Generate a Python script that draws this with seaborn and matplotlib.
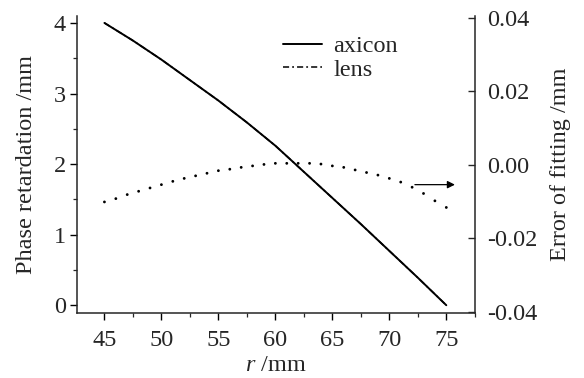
import matplotlib
matplotlib.use('Agg')
import pandas as pd
import matplotlib.pyplot as plt
import seaborn as sns
from matplotlib.ticker import MultipleLocator, FormatStrFormatter

# phase retardation curves (left axis)
r_line = [45, 47.5, 50, 52.5, 55, 57.5, 60, 62.5, 65, 67.5, 70, 72.5, 75]
axicon_phase = [4.00, 3.75, 3.48, 3.19, 2.90, 2.59, 2.26, 1.89, 1.52, 1.15, 0.77, 0.39, 0.00]
lens_phase = [4.00, 3.75, 3.48, 3.19, 2.90, 2.59, 2.26, 1.89, 1.52, 1.15, 0.77, 0.39, 0.00]

# fitting error (right axis, dotted)
r_err = list(range(45, 76))
fit_error = [-0.0101, -0.0092, -0.0081, -0.0072, -0.0063, -0.0054, -0.0045, -0.0037,
             -0.0030, -0.0023, -0.0016, -0.0012, -0.0007, -0.0003, 0.0001, 0.0004,
             0.0004, 0.0004, 0.0004, 0.0002, -0.0003, -0.0007, -0.0014, -0.0021,
             -0.0028, -0.0037, -0.0047, -0.0061, -0.0078, -0.0098, -0.0116]

sns.set_style('ticks')
plt.rcParams['font.family'] = ['Liberation Serif', 'DejaVu Serif']
plt.rcParams['mathtext.fontset'] = 'custom'
plt.rcParams['mathtext.rm'] = 'Liberation Serif'
plt.rcParams['mathtext.it'] = 'Liberation Serif:italic'
plt.rcParams['axes.unicode_minus'] = False
fs = 17.5

fig = plt.figure(figsize=(5.84, 3.78), dpi=100)
ax = fig.add_axes([0.132, 0.172, 0.681, 0.786])

df = pd.DataFrame({'r': r_line, 'axicon': axicon_phase, 'lens': lens_phase})
sns.lineplot(data=df, x='r', y='axicon', ax=ax, color='black', lw=1.4, label='axicon')
sns.lineplot(data=df, x='r', y='lens', ax=ax, color='black', lw=1.1,
             linestyle=(0, (4, 2, 1.2, 2)), label='lens')

ax.set_xlim(42.6, 77.5)
ax.set_ylim(-0.11, 4.1)
ax.xaxis.set_major_locator(MultipleLocator(5))
ax.xaxis.set_minor_locator(MultipleLocator(2.5))
ax.yaxis.set_major_locator(MultipleLocator(1))
ax.yaxis.set_minor_locator(MultipleLocator(0.5))
ax.tick_params(axis='both', which='major', direction='out', length=5, width=1.0,
               pad=3, labelsize=fs, color='black')
ax.tick_params(axis='x', which='major', pad=7)
ax.tick_params(axis='both', which='minor', direction='out', length=3, width=0.9)
ax.set_xlabel(r'$\mathit{r}$ /mm', fontsize=fs, labelpad=3)
ax.set_ylabel('Phase retardation /mm', fontsize=fs, labelpad=12)
ax.spines['top'].set_visible(False)
ax.spines['right'].set_visible(False)
for s in ['left', 'bottom']:
    ax.spines[s].set_linewidth(1.1)

leg = ax.legend(loc='upper left', bbox_to_anchor=(0.488, 0.975), frameon=False,
                borderpad=0, handlelength=1.6, handletextpad=0.45, labelspacing=0.05,
                fontsize=fs)

ax2 = ax.twinx()
sns.scatterplot(x=r_err, y=fit_error, ax=ax2, color='black', s=4, marker='o',
                edgecolor='none', legend=False)
ax2.set_ylim(-0.0403, 0.0405)
ax2.yaxis.set_major_locator(MultipleLocator(0.02))
ax2.yaxis.set_major_formatter(FormatStrFormatter('%.2f'))
ax2.tick_params(axis='y', direction='in', length=5, width=1.0, pad=9, labelsize=fs)
ax2.set_ylabel('Error of fitting /mm', fontsize=fs, labelpad=9)
ax2.spines['top'].set_visible(False)
ax2.spines['left'].set_visible(False)
ax2.spines['bottom'].set_visible(False)
ax2.spines['right'].set_linewidth(1.1)

# arrow pointing to the right axis
ax2.annotate('', xy=(76.0, -0.0054), xytext=(72.0, -0.0054),
             arrowprops=dict(arrowstyle='-|>', color='black', lw=0.9,
                             mutation_scale=11))

fig.savefig('out.png', dpi=100)
